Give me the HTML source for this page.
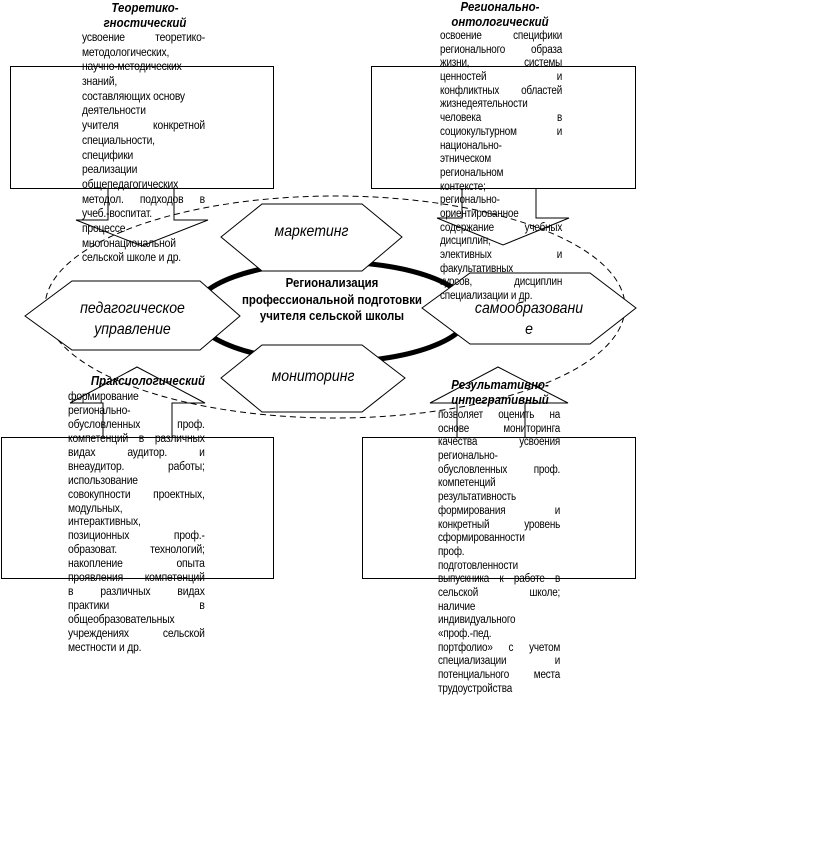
<!DOCTYPE html>
<html><head><meta charset="utf-8"><style>
body{margin:0;width:820px;height:851px;background:#fff;position:relative;overflow:hidden;font-family:"Liberation Sans",Arial,sans-serif;color:#000}
svg{position:absolute;left:0;top:0}
.t{position:absolute;font-size:12px;letter-spacing:-0.2px;transform:scaleX(0.86);transform-origin:0 0}
.t div{white-space:nowrap;height:inherit}
.j{text-align:justify;text-align-last:justify}
.h{position:absolute;font-weight:bold;font-style:italic;font-size:13px;text-align:center;line-height:15px;transform:scaleX(0.88)}
.lab{position:absolute;font-style:italic;font-size:16px;text-align:center;line-height:21px;transform:scaleX(0.88)}
</style></head><body>
<svg width="820" height="851">
<ellipse cx="335" cy="307" rx="290" ry="111" fill="none" stroke="#000" stroke-dasharray="6,4" stroke-width="1"/>
<ellipse cx="332" cy="312" rx="138" ry="50" fill="#fff" stroke="#000" stroke-width="5"/>
<g fill="none" stroke="#000" stroke-width="1">
<rect x="10.5" y="66.5" width="263" height="122"/>
<rect x="371.5" y="66.5" width="264" height="122"/>
<rect x="1.5" y="437.5" width="272" height="141"/>
<rect x="362.5" y="437.5" width="273" height="141"/>
<polyline points="108,188 108,220 76,220 142,246 208,220 174,220 174,188"/>
<polyline points="462,188 462,218 437,218 503,245 569,218 536,218 536,188"/>
<polyline points="103,437 103,403 70,403 137,367 205,403 172,403 172,437"/>
<polyline points="457,437 457,403 430,403 498,367 568,403 525,403 525,437"/>
</g>
<g fill="#fff" stroke="#000" stroke-width="1">
<polygon points="221,237 262,204 362,204 402,237 362,271 262,271"/>
<polygon points="25,316 72,281 200,281 240,316 200,350 72,350"/>
<polygon points="422,308 470,273 590,273 636,308 590,344 470,344"/>
<polygon points="221,378 262,345 362,345 405,378 362,412 262,412"/>
</g>
</svg>
<div class="lab" style="left:221px;top:221px;width:181px">маркетинг</div>
<div class="lab" style="left:25px;top:298px;width:215px">педагогическое<br>управление</div>
<div class="lab" style="left:422px;top:298px;width:214px">самообразовани<br>е</div>
<div class="lab" style="left:221px;top:366px;width:184px">мониторинг</div>
<div style="position:absolute;left:212px;top:275px;width:240px;text-align:center;font-weight:bold;font-size:13px;line-height:16.5px;transform:scaleX(0.88)">Регионализация<br>профессиональной подготовки<br>учителя сельской школы</div>

<div class="h" style="left:70px;top:0px;width:150px">Теоретико-<br>гностический</div>
<div class="t" style="left:82px;top:30px;width:143px;line-height:14.7px;height:14.7px">
<div class="j">усвоение теоретико-</div><div>методологических,</div><div>научно-методических</div><div>знаний,</div><div>составляющих основу</div><div>деятельности</div><div class="j">учителя конкретной</div><div>специальности,</div><div>специфики</div><div>реализации</div><div>общепедагогических</div><div class="j">методол. подходов в</div><div>учеб.-воспитат.</div><div>процессе</div><div>многонациональной</div><div>сельской школе и др.</div>
</div>

<div class="h" style="left:425px;top:-1px;width:150px">Регионально-<br>онтологический</div>
<div class="t" style="left:440px;top:30px;width:142px;font-size:11.5px;line-height:13.7px;height:13.7px">
<div class="j">освоение специфики</div><div class="j">регионального образа</div><div class="j">жизни, системы</div><div class="j">ценностей и</div><div class="j">конфликтных областей</div><div>жизнедеятельности</div><div class="j">человека в</div><div class="j">социокультурном и</div><div>национально-</div><div>этническом</div><div>региональном</div><div>контексте;</div><div>регионально-</div><div>ориентированное</div><div class="j">содержание учебных</div><div>дисциплин,</div><div class="j">элективных и</div><div>факультативных</div><div class="j">курсов, дисциплин</div><div>специализации и др.</div>
</div>

<div class="h" style="left:45px;top:373px;width:160px;text-align:right;transform-origin:100% 0">Праксиологический</div>
<div class="t" style="left:68px;top:390px;width:159px;line-height:13.95px;height:13.95px">
<div>формирование</div><div>регионально-</div><div class="j">обусловленных проф.</div><div class="j">компетенций в различных</div><div class="j">видах аудитор. и</div><div class="j">внеаудитор. работы;</div><div>использование</div><div class="j">совокупности проектных,</div><div>модульных,</div><div>интерактивных,</div><div class="j">позиционных проф.-</div><div class="j">образоват. технологий;</div><div class="j">накопление опыта</div><div class="j">проявления компетенций</div><div class="j">в различных видах</div><div class="j">практики в</div><div>общеобразовательных</div><div class="j">учреждениях сельской</div><div>местности и др.</div>
</div>

<div class="h" style="left:425px;top:377px;width:150px">Результативно-<br>интегративный</div>
<div class="t" style="left:438px;top:409px;width:142px;font-size:11.5px;line-height:13.7px;height:13.7px">
<div class="j">позволяет оценить на</div><div class="j">основе мониторинга</div><div class="j">качества усвоения</div><div>регионально-</div><div class="j">обусловленных проф.</div><div>компетенций</div><div>результативность</div><div class="j">формирования и</div><div class="j">конкретный уровень</div><div>сформированности</div><div>проф.</div><div>подготовленности</div><div class="j">выпускника к работе в</div><div class="j">сельской школе;</div><div>наличие</div><div>индивидуального</div><div>«проф.-пед.</div><div class="j">портфолио» с учетом</div><div class="j">специализации и</div><div class="j">потенциального места</div><div>трудоустройства</div>
</div>
</body></html>
